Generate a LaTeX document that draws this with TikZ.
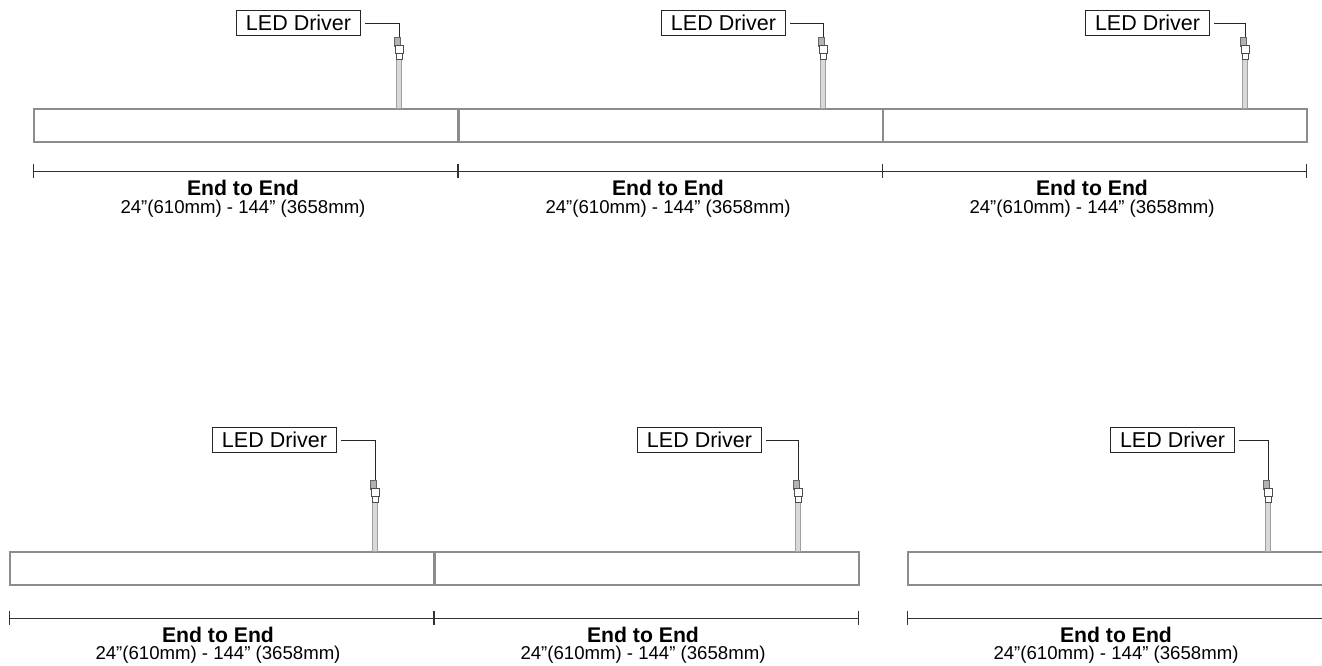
\documentclass[tikz,border=0pt]{standalone}
\usepackage{fontspec}
\setmainfont{Liberation Sans}
\usetikzlibrary{calc,positioning}

\tikzset{
  bar/.style={draw=gray!90, line width=1.6pt, fill=white, anchor=north west,
    inner sep=0pt, minimum width=424pt, minimum height=33pt},
  drvbox/.style={draw=black!85, line width=1.1pt, anchor=north west, inner sep=0pt,
    minimum width=124pt, minimum height=25pt, font=\fontsize{21.5}{22}\selectfont},
  wire/.style={draw=black!85, line width=1pt},
  cable/.style={draw=gray!75, line width=0.8pt, fill=gray!30},
  dimline/.style={draw=black!80, line width=1pt},
  bigtxt/.style={inner sep=0pt, font=\fontsize{21.2}{22}\selectfont\bfseries},
  smalltxt/.style={inner sep=0pt, font=\fontsize{18.6}{20}\selectfont},
  plughead/.pic={
    \draw[black!60, fill=gray!60, line width=0.5pt] (-5,0) rectangle (1,9);
    \draw[black!70, fill=white, line width=0.6pt] (-4,8) rectangle (4,16);
    \draw[black!70, fill=white, line width=0.6pt] (-3,16) rectangle (3,22);
  }
}

\begin{document}
\begin{tikzpicture}[x=1pt, y=-1pt]
  \useasboundingbox (0,0) rectangle (1322,666);
  \clip (0,0) rectangle (1322,666);
  % top row
  \foreach \n/\l/\d in {1/33/366, 2/458/365, 3/882/363} {
    \node[bar] (tbar\n) at (\l,108) {};
    \node[drvbox] (tdrv\n) at (\l+203,10) {LED Driver};
    \coordinate (tplug\n) at (\l+\d,37);
    \draw[wire] ([xshift=4pt]tdrv\n.east) -| (tplug\n);
    \draw[cable] ($(tplug\n)+(-2.5,22)$) rectangle ($(tbar\n.north west)+(\d+2.5,0)$);
    \pic at (tplug\n) {plughead};
    \coordinate (tdimL\n) at (\l,171);
    \coordinate (tdimR\n) at (\l+424,171);
    \draw[dimline] (tdimL\n) -- (tdimR\n);
    \draw[dimline] (tdimL\n) ++(0,-7) -- ++(0,14);
    \draw[dimline] (tdimR\n) ++(0,-7) -- ++(0,14);
    \node[bigtxt] (tete\n) at (\l+210,188) {End to End};
    \node[smalltxt] (tlen\n) at (\l+210,209) {24”(610mm) - 144” (3658mm)};
  }
  % bottom row
  \foreach \n/\l/\d in {1/9/366, 2/434/364, 3/907/361} {
    \node[bar] (bbar\n) at (\l,551) {};
    \node[drvbox] (bdrv\n) at (\l+203,427) {LED Driver};
    \coordinate (bplug\n) at (\l+\d,480);
    \draw[wire] ([xshift=4pt]bdrv\n.east) -| (bplug\n);
    \draw[cable] ($(bplug\n)+(-2.5,22)$) rectangle ($(bbar\n.north west)+(\d+2.5,0)$);
    \pic at (bplug\n) {plughead};
    \coordinate (bdimL\n) at (\l,618);
    \coordinate (bdimR\n) at (\l+424,618);
    \draw[dimline] (bdimL\n) -- (bdimR\n);
    \draw[dimline] (bdimL\n) ++(0,-7) -- ++(0,14);
    \draw[dimline] (bdimR\n) ++(0,-7) -- ++(0,14);
    \node[bigtxt] (bete\n) at (\l+209,635) {End to End};
    \node[smalltxt] (blen\n) at (\l+209,655) {24”(610mm) - 144” (3658mm)};
  }
\end{tikzpicture}
\end{document}
